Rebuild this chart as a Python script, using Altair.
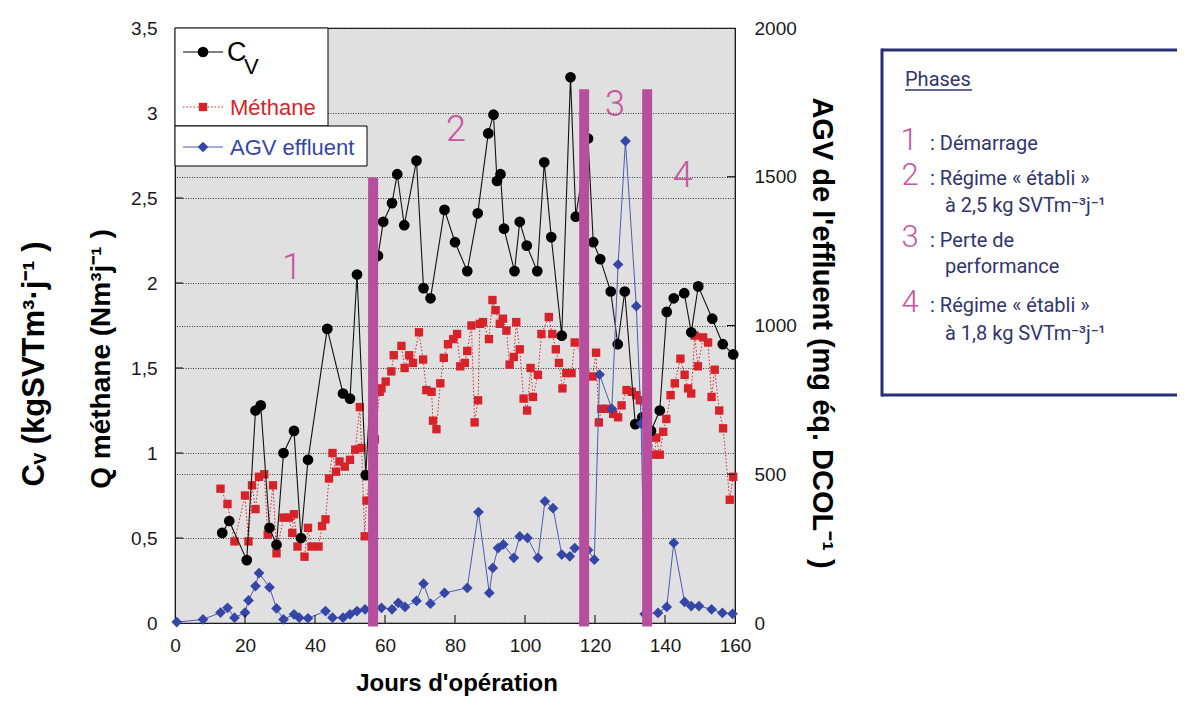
import altair as alt
import pandas as pd

# ---------------- data ----------------
cv_day = [13.5, 15.5, 20.5, 23, 24.5, 27, 29, 31, 34, 36, 38, 43.5, 48, 50, 52, 54.5, 58, 59.5, 62, 63.5,
          65.5, 69, 71, 73, 77, 80, 83.5, 86.5, 89.5, 91, 92, 93, 94, 97, 98.5, 100.5, 103.5, 105.5, 107.5, 110.5,
          113, 114.5, 118, 119.5, 121.5, 124.5, 126.5, 128.5, 131.5, 133.5, 136, 138.5, 140.5, 142.5, 145.5,
          147.5, 149.5, 153.5, 156.5, 159.5]
cv_val = [0.53, 0.60, 0.37, 1.25, 1.28, 0.56, 0.46, 1.00, 1.13, 0.50, 0.96, 1.73, 1.35, 1.32, 2.05, 0.87, 2.16, 2.36, 2.47, 2.64,
          2.34, 2.72, 1.97, 1.91, 2.43, 2.24, 2.07, 2.41, 2.88, 2.99, 2.60, 2.64, 2.32, 2.07, 2.36, 2.22, 2.07, 2.71, 2.27, 1.69,
          3.21, 2.39, 2.85, 2.24, 2.14, 1.95, 1.64, 1.95, 1.17, 1.21, 1.13, 1.25, 1.83, 1.91, 1.94,
          1.71, 1.98, 1.79, 1.64, 1.58]

meth_day = [13, 15, 17, 20, 21, 22, 23, 24, 25.5, 26.5, 28, 29, 31, 32.5, 33.5, 34, 35, 37, 38, 39,
            41, 42, 43, 44, 45, 46, 47, 48.5, 50, 51.5, 52.8, 53.3, 54.2, 54.7, 57.1, 58.5, 59, 60.2, 61.8, 62.5,
            64.7, 65.6, 66.9, 68, 69.7, 70.9, 71.8, 73.3, 73.7, 74.7, 75.8, 76.8, 78, 79.5, 80.6, 81.5, 82.8, 83.5, 84.7, 85.6,
            86.6, 87.1, 88, 89.7, 90.7, 91.6, 92.8, 93.7, 94.7, 95.6, 96.8, 97.5, 98.5, 99.6, 100.6, 101.6, 102.3, 103.7, 104.7, 106.8,
            107.8, 108.8, 109.7, 110.7, 111.8, 113.3, 114.2, 119.3, 120.3, 121.1, 121.8, 123.3, 125.2, 126.6, 127.6, 129, 130.5, 131.8, 132.8,
            137.1, 137.5, 138.5, 139.5, 140.4, 141.6, 142.8, 144.4, 145.6, 146.6, 147.5, 148.5, 149.4, 150.9, 152.3, 153.3, 154.2,
            155.5, 156.6, 158.5, 159.5]
meth_val = [0.79, 0.70, 0.48, 0.75, 0.48, 0.81, 0.67, 0.86, 0.875, 0.52, 0.81, 0.41, 0.62, 0.62, 0.53, 0.64, 0.45, 0.39, 0.56, 0.45,
            0.45, 0.57, 0.61, 0.85, 1.00, 0.89, 0.95, 0.92, 0.96, 1.02, 1.27, 1.03, 0.51, 0.72, 1.08, 1.36, 1.38, 1.42, 1.48, 1.575,
            1.63, 1.50, 1.575, 1.53, 1.71, 1.55, 1.37, 1.36, 1.19, 1.14, 1.41, 1.56, 1.64, 1.67, 1.70, 1.51, 1.53, 1.60, 1.75, 1.18,
            1.31, 1.76, 1.77, 1.67, 1.90, 1.84, 1.76, 1.79, 1.72, 1.52, 1.565, 1.77, 1.61, 1.32, 1.25, 1.50, 1.33, 1.46, 1.70, 1.80,
            1.70, 1.61, 1.53, 1.38, 1.47, 1.47, 1.65, 1.45, 1.59, 1.18, 1.26, 1.26, 1.23, 1.21, 1.28, 1.37, 1.36, 1.34, 1.31,
            0.99, 1.09, 0.99, 1.125, 1.20, 1.34, 1.41, 1.555, 1.46, 1.38, 1.35, 1.69, 1.51, 1.68, 1.65, 1.33, 1.49,
            1.25, 1.145, 0.725, 0.86]

agv_day = [0.5, 8, 13, 15, 17, 20, 21, 23, 24, 27, 29, 31, 34, 35.5, 38, 43, 45, 48, 50, 52,
           54.3, 59, 62, 63.8, 65.7, 69, 71, 73, 77, 83.5, 86.7, 89.8, 90.8, 92.3, 93.8, 96.8, 98.5, 100.7, 103.7, 105.7,
           108, 110.5, 112.8, 114.2, 118, 119.8, 121.3, 124.8, 126.6, 128.7, 131.8, 133.2, 134.2, 138, 140.5, 142.5, 145.6,
           147.5, 149.7, 153.3, 156.4, 159.3]
agv_val = [3, 12, 35, 51, 18, 35, 76, 124, 168, 120, 49, 12, 29, 18, 16, 40, 18, 18, 29, 40,
           46, 51, 46, 68, 54, 74, 132, 65, 101, 118, 373, 101, 185, 252, 264, 219, 291, 286, 219, 409,
           386, 230, 224, 252, 245, 213, 835, 720, 1205, 1620, 1065, 670, 30, 34, 54, 269, 71,
           57, 57, 46, 34, 31]

phase_day = [56.6, 116.9, 134.9]
phase_top = [2.62, 3.14, 3.14]
phase_bottom = [-0.02, -0.02, -0.02]

phase_num = ["1", "2", "3", "4"]
phase_num_day = [33.4, 80.3, 125.7, 145.1]
phase_num_val = [2.09, 2.90, 3.05, 2.63]

left_values = [0, 0.5, 1, 1.5, 2, 2.5, 3, 3.5]
right_values = [0, 500, 1000, 1500, 2000]
x_values = [0, 20, 40, 60, 80, 100, 120, 140, 160]
left_ticks = [0.5, 1, 1.5, 2, 2.5, 3]
right_ticks = [500, 1000, 1500]
x_ticks = [20, 40, 60, 80, 100, 120, 140]

assert len(cv_day) == len(cv_val)
assert len(meth_day) == len(meth_val)
assert len(agv_day) == len(agv_val)

# ---------------- styling ----------------
W, H = 560, 595
FONT = "Liberation Sans"
BOXFONT = "Roboto"
RED = "#d8222a"
BLUE = "#3546a6"
BLUE_LINE = "#4a5bb3"
PURPLE = "#b64f9d"
PINK = "#c9549f"
NAVY = "#2b2d76"
NAVY_TXT = "#32346f"

xs = alt.Scale(domain=[0, 160], nice=False, zero=False, padding=0)
ys_left = alt.Scale(domain=[0, 3.5], nice=False, zero=False, padding=0)
ys_right = alt.Scale(domain=[0, 2000], nice=False, zero=False, padding=0)

X = alt.X("day:Q", scale=xs,
          axis=alt.Axis(values=x_values, title=None, grid=False, ticks=False, domain=False,
                        labelFontSize=19, labelPadding=13, labelFont=FONT, labelColor="#1a1a1a",
                        labelFlush=False))

left_axis = alt.Axis(values=left_values, title=None, grid=True, gridDash=[1, 1.5], gridColor="#2a2a2a",
                     gridWidth=0.9, ticks=False, domain=False, labelFontSize=19, labelPadding=18,
                     labelFont=FONT, labelColor="#1a1a1a", orient="left", labelFlush=False,
                     labelExpr="replace(format(datum.value, '.1~f'), '.', ',')")
right_axis = alt.Axis(values=right_values, title=None, grid=True, gridDash=[1, 1.5], gridColor="#2a2a2a",
                      gridWidth=0.9, ticks=False, domain=False, labelFontSize=19, labelPadding=19,
                      labelFont=FONT, labelColor="#1a1a1a", orient="right", format="d", labelFlush=False)

cv_df = pd.DataFrame({"day": cv_day, "val": cv_val})
meth_df = pd.DataFrame({"day": meth_day, "val": meth_val})
agv_df = pd.DataFrame({"day": agv_day, "val": agv_val})

meth_line = alt.Chart(meth_df).mark_line(color=RED, strokeDash=[1.5, 2], strokeWidth=1).encode(
    x=X, y=alt.Y("val:Q", scale=ys_left, axis=left_axis))
meth_pts = alt.Chart(meth_df).mark_point(shape="square", filled=True, size=70, color=RED, opacity=1).encode(
    x=X, y=alt.Y("val:Q", scale=ys_left, axis=left_axis))
cv_line = alt.Chart(cv_df).mark_line(color="#111111", strokeWidth=1.1).encode(
    x=X, y=alt.Y("val:Q", scale=ys_left, axis=left_axis))
cv_pts = alt.Chart(cv_df).mark_point(shape="circle", filled=True, size=115, color="black", opacity=1).encode(
    x=X, y=alt.Y("val:Q", scale=ys_left, axis=left_axis))
lt_df = pd.DataFrame({"v": left_ticks})
left_tick_marks = alt.Chart(lt_df).mark_rule(color="black", strokeWidth=1).encode(
    y=alt.Y("v:Q", scale=ys_left, axis=left_axis), x=alt.value(0), x2=alt.value(8))

left_group = alt.layer(meth_line, meth_pts, cv_line, cv_pts, left_tick_marks)

agv_line = alt.Chart(agv_df).mark_line(color=BLUE_LINE, strokeWidth=1).encode(
    x=X, y=alt.Y("val:Q", scale=ys_right, axis=right_axis))
agv_pts = alt.Chart(agv_df).mark_point(shape="diamond", filled=True, size=115, color=BLUE, opacity=1).encode(
    x=X, y=alt.Y("val:Q", scale=ys_right, axis=right_axis))
rt_df = pd.DataFrame({"v": right_ticks})
right_tick_marks = alt.Chart(rt_df).mark_rule(color="black", strokeWidth=1).encode(
    y=alt.Y("v:Q", scale=ys_right, axis=right_axis), x=alt.value(W - 8), x2=alt.value(W))

right_group = alt.layer(agv_line, agv_pts, right_tick_marks)

# ---------------- overlay: phase bars, labels, legend, titles ----------------
bars_df = pd.DataFrame({"day": phase_day, "top": phase_top, "bottom": phase_bottom})
bars = alt.Chart(bars_df).mark_rule(color=PURPLE, strokeWidth=10).encode(
    x=X, y=alt.Y("bottom:Q", scale=ys_left, axis=None), y2="top:Q")

num_df = pd.DataFrame({"day": phase_num_day, "val": phase_num_val, "t": phase_num})
nums = alt.Chart(num_df).mark_text(font=BOXFONT, fontWeight=300, fontSize=36, color=PINK,
                                   align="center", baseline="middle").encode(
    x=X, y=alt.Y("val:Q", scale=ys_left, axis=None), text="t:N")

xt_df = pd.DataFrame({"day": x_ticks})
x_tick_marks = alt.Chart(xt_df).mark_rule(color="black", strokeWidth=1).encode(
    x=X, y=alt.value(H - 8), y2=alt.value(H))

one = pd.DataFrame({"a": [0]})


def rect(x, x2, y, y2, fill, stroke=None, sw=0):
    kw = dict(fill=fill)
    if stroke:
        kw.update(stroke=stroke, strokeWidth=sw)
    return alt.Chart(one).mark_rect(**kw).encode(
        x=alt.value(x), x2=alt.value(x2), y=alt.value(y), y2=alt.value(y2))


def rule(x, x2, y, y2, color, sw, dash=None):
    kw = dict(color=color, strokeWidth=sw)
    if dash:
        kw["strokeDash"] = dash
    return alt.Chart(one).mark_rule(**kw).encode(
        x=alt.value(x), x2=alt.value(x2), y=alt.value(y), y2=alt.value(y2))


def sym(x, y, shape, size, color):
    return alt.Chart(one).mark_point(shape=shape, filled=True, size=size, color=color, opacity=1).encode(
        x=alt.value(x), y=alt.value(y))


def txt(s, x, y, size, color, font=FONT, weight="normal", align="left", baseline="alphabetic", angle=0):
    return alt.Chart(one).mark_text(text=s, align=align, baseline=baseline, font=font, fontSize=size,
                                    fontWeight=weight, color=color, angle=angle).encode(
        x=alt.value(x), y=alt.value(y))


legend = [
    rect(0, 153, 0, 98, "white", "black", 1),
    rect(0, 192, 98, 138, "white", "black", 1),
    rule(8, 48, 24, 24, "black", 1.2),
    sym(28, 24, "circle", 115, "black"),
    txt("C", 52, 33, 27, "black"),
    txt("V", 69, 46, 22, "black"),
    rule(8, 48, 79, 79, RED, 1, [1.5, 2]),
    sym(28, 79, "square", 70, RED),
    txt("Méthane", 55, 87, 22, RED),
    rule(8, 48, 119, 119, BLUE_LINE, 1.2),
    sym(28, 119, "diamond", 115, BLUE),
    txt("AGV effluent", 55, 127, 22, BLUE),
]

titles = [
    txt("C\u1d65  (kgSVTm\u00b3\u00b7j\u207b\u00b9 )", -140, 336, 31, "black", weight="bold",
        align="center", baseline="middle", angle=270),
    txt("Q méthane (Nm\u00b3j\u207b\u00b9 )", -73, 331, 28, "black", weight="bold",
        align="center", baseline="middle", angle=270),
    txt("AGV de  l'effluent (mg éq. DCOL\u207b\u00b9 )", 647, 305, 29, "black", weight="bold",
        align="center", baseline="middle", angle=90),
    txt("Jours d'opération", 282, 656, 24, "black", weight="bold", align="center", baseline="middle"),
]

bx = 730
BOX_R = 1002
box = [
    rect(707, BOX_R, 22, 367, "white"),
    rule(707, BOX_R, 22, 22, NAVY, 3),
    rule(707, BOX_R, 367, 367, NAVY, 3),
    rule(707, 707, 20.5, 368.5, NAVY, 3),
    txt("Phases", bx, 58, 20, NAVY_TXT, font=BOXFONT),
    rule(bx, bx + 67, 62, 62, NAVY_TXT, 1.5),
    txt("1", 734, 122, 31, PINK, font=BOXFONT, weight=300, align="center"),
    txt(": Démarrage", 755, 122, 20, NAVY_TXT, font=BOXFONT),
    txt("2", 735, 157, 31, PINK, font=BOXFONT, weight=300, align="center"),
    txt(": Régime « établi »", 755, 157, 20, NAVY_TXT, font=BOXFONT),
    txt("à 2,5 kg SVTm\u207b\u00b3j\u207b\u00b9", 770, 184, 20, NAVY_TXT, font=BOXFONT),
    txt("3", 735, 219, 31, PINK, font=BOXFONT, weight=300, align="center"),
    txt(": Perte de", 755, 219, 20, NAVY_TXT, font=BOXFONT),
    txt("performance", 770, 245, 20, NAVY_TXT, font=BOXFONT),
    txt("4", 735, 284, 31, PINK, font=BOXFONT, weight=300, align="center"),
    txt(": Régime « établi »", 755, 284, 20, NAVY_TXT, font=BOXFONT),
    txt("à 1,8 kg SVTm\u207b\u00b3j\u207b\u00b9", 770, 312, 20, NAVY_TXT, font=BOXFONT),
]

top_group = alt.layer(bars, nums, x_tick_marks, *legend, *titles, *box)

chart = alt.layer(left_group, right_group, top_group).resolve_scale(y="independent").properties(
    width=W, height=H,
    padding={"left": 167, "top": 20, "right": 450, "bottom": 74},
    autosize=alt.AutoSizeParams(type="none"),
).configure_view(fill="#e0e0e0", stroke="black", strokeWidth=1.2).configure_axis(
    labelFont=FONT
)

chart.save("out.html", embed_options={"renderer": "svg", "actions": False})
